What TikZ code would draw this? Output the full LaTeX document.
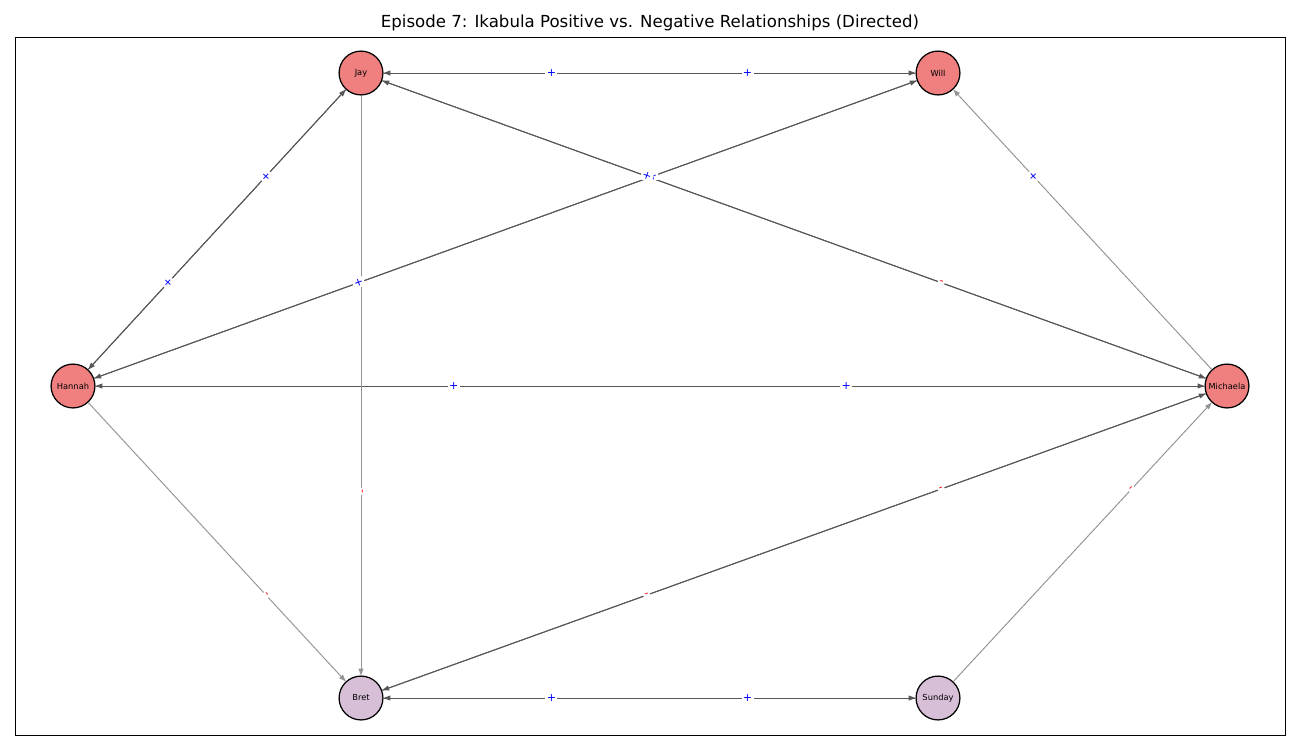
\documentclass[tikz,border=0pt]{standalone}
\usepackage{fontspec}
\setmainfont{DejaVu Sans}
\usetikzlibrary{arrows.meta}
\definecolor{coral}{RGB}{240,128,128}
\definecolor{thistle}{RGB}{216,191,216}
\tikzstyle{person} = [circle, minimum size=31.7pt, inner sep=0pt, draw=black, line width=0.9pt, font=\fontsize{6}{7}\selectfont]
\tikzstyle{edge} = [draw=black!42, line width=0.7pt, -{Triangle[length=5pt,width=3.6pt]}]
\tikzstyle{mutual} = [edge, draw=black!66]
\tikzstyle{poslbl} = [sloped, fill=white, inner sep=1pt, text=blue, font=\fontsize{8}{9}\selectfont]
\tikzstyle{neglbl} = [sloped, fill=white, inner sep=1pt, text=red, font=\fontsize{8}{9}\selectfont]

\begin{document}
\begin{tikzpicture}[x=0.0254cm, y=-0.0254cm]

\useasboundingbox (0,0) rectangle (1300,750);
\node (title) at (650,23) {\fontsize{12}{14}\selectfont Episode 7: Ikabula Positive vs. Negative Relationships (Directed)};
\draw[line width=0.6pt] (15,37) rectangle (1285,735);

\node (jay) [person, fill=coral] at (361,73) {Jay};
\node (will) [person, fill=coral] at (938,73) {Will};
\node (hannah) [person, fill=coral] at (73,386) {Hannah};
\node (michaela) [person, fill=coral] at (1227,386) {Michaela};
\node (bret) [person, fill=thistle] at (361,698) {Bret};
\node (sunday) [person, fill=thistle] at (938,698) {Sunday};

% edges first, labels on top
\foreach \s/\t in {jay/will, will/jay, jay/hannah, hannah/jay, hannah/will, will/hannah,
  jay/michaela, michaela/jay, hannah/michaela, michaela/hannah,
  bret/michaela, michaela/bret, bret/sunday, sunday/bret}
  \draw [mutual] (\s) -- (\t);
\foreach \s/\t in {michaela/will, hannah/bret, jay/bret, sunday/michaela}
  \draw [edge] (\s) -- (\t);

\foreach \s/\t in {bret/sunday, sunday/bret, michaela/hannah, jay/will, will/jay, jay/hannah,
  hannah/jay, hannah/will, will/hannah, michaela/jay, michaela/will, hannah/michaela}
  \path (\s.center) -- node[pos=0.67, poslbl] {+} (\t.center);

\foreach \s/\t in {jay/michaela, hannah/bret, jay/bret, bret/michaela, michaela/bret, sunday/michaela}
  \path (\s.center) -- node[pos=0.67, neglbl] {-} (\t.center);

\end{tikzpicture}
\end{document}
